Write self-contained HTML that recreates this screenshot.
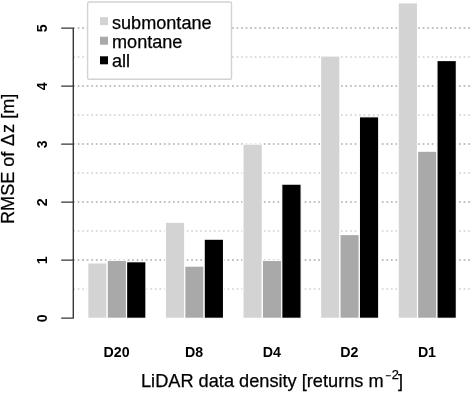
<!DOCTYPE html>
<html><head><meta charset="utf-8"><title>chart</title>
<style>
html,body{margin:0;padding:0;background:#fff;}
body{width:472px;height:394px;overflow:hidden;}
svg{display:block;font-family:"Liberation Sans",sans-serif;filter:blur(0.35px);}
</style></head><body>
<svg width="472" height="394" viewBox="0 0 472 394">
<rect x="0" y="0" width="472" height="394" fill="#fff"/>

<g stroke-width="1.4" stroke-dasharray="1.7 2.84" fill="none">
<line x1="73.15" x2="472" y1="289.00" y2="289.00" stroke="#d0d0d0"/>
<line x1="73.15" x2="472" y1="260.00" y2="260.00" stroke="#acacac"/>
<line x1="73.15" x2="472" y1="231.00" y2="231.00" stroke="#d0d0d0"/>
<line x1="73.15" x2="472" y1="202.00" y2="202.00" stroke="#acacac"/>
<line x1="73.15" x2="472" y1="173.00" y2="173.00" stroke="#d0d0d0"/>
<line x1="73.15" x2="472" y1="144.00" y2="144.00" stroke="#acacac"/>
<line x1="73.15" x2="472" y1="115.00" y2="115.00" stroke="#d0d0d0"/>
<line x1="73.15" x2="472" y1="86.00" y2="86.00" stroke="#acacac"/>
<line x1="73.15" x2="472" y1="57.00" y2="57.00" stroke="#d0d0d0"/>
<line x1="73.15" x2="472" y1="28.00" y2="28.00" stroke="#acacac"/>
</g>
<g stroke="#fff" stroke-width="1.2">
<rect x="87.75" y="262.88" width="19.40" height="55.42" fill="#d3d3d3"/>
<rect x="107.15" y="260.27" width="19.40" height="58.03" fill="#a9a9a9"/>
<rect x="126.55" y="261.72" width="19.40" height="56.58" fill="#000000"/>
<rect x="165.35" y="222.22" width="19.40" height="96.08" fill="#d3d3d3"/>
<rect x="184.75" y="266.07" width="19.40" height="52.23" fill="#a9a9a9"/>
<rect x="204.15" y="239.16" width="19.40" height="79.14" fill="#000000"/>
<rect x="242.95" y="144.04" width="19.40" height="174.26" fill="#d3d3d3"/>
<rect x="262.35" y="260.33" width="19.40" height="57.97" fill="#a9a9a9"/>
<rect x="281.75" y="184.12" width="19.40" height="134.18" fill="#000000"/>
<rect x="320.55" y="55.99" width="19.40" height="262.31" fill="#d3d3d3"/>
<rect x="339.95" y="234.52" width="19.40" height="83.78" fill="#a9a9a9"/>
<rect x="359.35" y="116.78" width="19.40" height="201.52" fill="#000000"/>
<rect x="398.15" y="2.81" width="19.40" height="315.49" fill="#d3d3d3"/>
<rect x="417.55" y="151.17" width="19.40" height="167.13" fill="#a9a9a9"/>
<rect x="436.95" y="60.52" width="19.40" height="257.78" fill="#000000"/>
</g>
<g stroke="#363636" stroke-width="1.4" fill="none" stroke-linejoin="round" stroke-linecap="round">
<path d="M61.8 318.15 H73.3 V28.15 H61.8 M61.8 260.15 H73.3 M61.8 202.15 H73.3 M61.8 144.15 H73.3 M61.8 86.15 H73.3"/>
</g>
<g font-size="14.2px" font-weight="bold" fill="#000" text-anchor="middle">
<text transform="translate(47,318.30) rotate(-90)">0</text>
<text transform="translate(47,260.30) rotate(-90)">1</text>
<text transform="translate(47,202.30) rotate(-90)">2</text>
<text transform="translate(47,144.30) rotate(-90)">3</text>
<text transform="translate(47,86.30) rotate(-90)">4</text>
<text transform="translate(47,28.30) rotate(-90)">5</text>
</g>
<g font-size="14.2px" font-weight="bold" fill="#000" text-anchor="middle">
<text x="116.55" y="357.4">D20</text>
<text x="194.15" y="357.4">D8</text>
<text x="271.75" y="357.4">D4</text>
<text x="349.35" y="357.4">D2</text>
<text x="426.95" y="357.4">D1</text>
</g>
<text x="141.0" y="387.4" font-size="18.2px" fill="#000" stroke="#000" stroke-width="0.25">LiDAR data density [returns m<tspan x="385.4" y="378.5" font-size="9.5px">−</tspan><tspan x="391.8" y="379.3" font-size="12.8px">2</tspan><tspan x="398.0" y="387.4">]</tspan></text>
<text transform="translate(14.2,224.0) rotate(-90)" font-size="18.1px" fill="#000" stroke="#000" stroke-width="0.25">RMSE of <tspan dx="0.7">Δ</tspan><tspan dx="0.9">z</tspan> [m]</text>
<rect x="87.6" y="2.0" width="143.9" height="77.3" rx="1.5" fill="#fff" stroke="#d2d2d2" stroke-width="1.4"/>
<rect x="100" y="17.20" width="8" height="8" fill="#d3d3d3"/>
<text x="112" y="29.0" font-size="18.1px" fill="#000" stroke="#000" stroke-width="0.25">submontane</text>
<rect x="100" y="36.70" width="8" height="8" fill="#a9a9a9"/>
<text x="112" y="47.8" font-size="18.1px" fill="#000" stroke="#000" stroke-width="0.25">montane</text>
<rect x="100" y="56.30" width="8" height="8" fill="#000"/>
<text x="112" y="67.0" font-size="18.1px" fill="#000" stroke="#000" stroke-width="0.25">all</text>
</svg>
</body></html>
